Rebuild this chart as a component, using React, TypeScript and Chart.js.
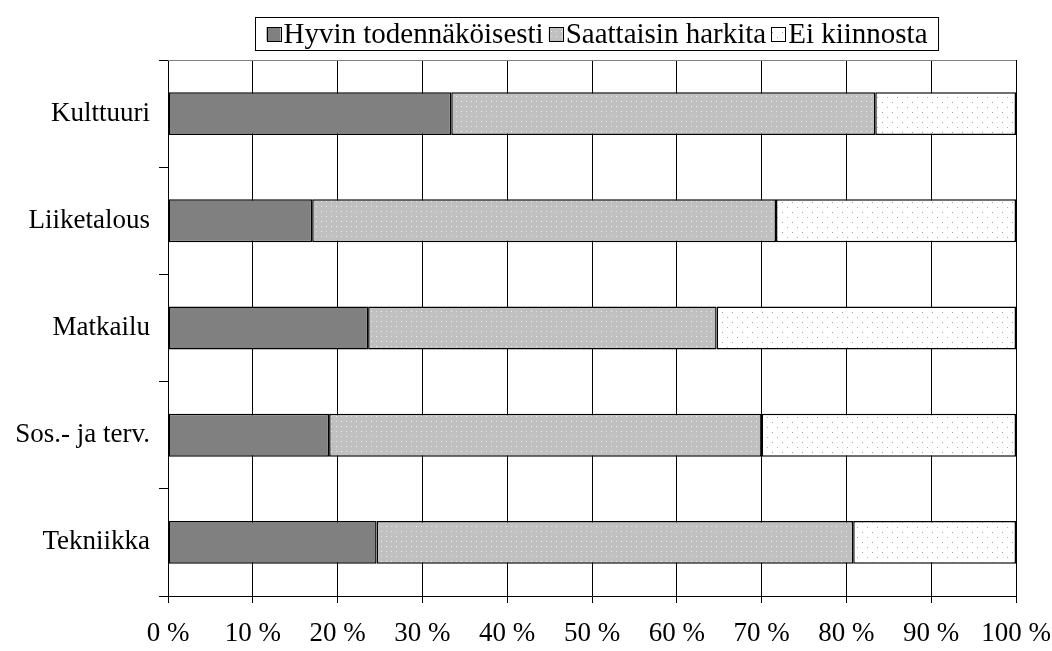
import React, { useEffect, useRef } from "react";
import { Chart, registerables } from "chart.js";

Chart.register(...registerables);

const categories = ["Kulttuuri", "Liiketalous", "Matkailu", "Sos.- ja terv.", "Tekniikka"];
const seriesNames = ["Hyvin todennäköisesti", "Saattaisin harkita", "Ei kiinnosta"];
const hyvin = [33.4, 17.0, 23.6, 19.0, 24.6];
const saattaisin = [50.0, 54.7, 41.1, 51.0, 56.2];
const eiKiinnosta = [16.6, 28.3, 35.3, 30.0, 19.2];
const xTickValues = [0, 10, 20, 30, 40, 50, 60, 70, 80, 90, 100];

const FONT = '"Liberation Serif", "Times New Roman", serif';

function makePattern(bg: string, size: number, dots: [number, number, string][]) {
  const c = document.createElement("canvas");
  c.width = size;
  c.height = size;
  const g = c.getContext("2d")!;
  g.fillStyle = bg;
  g.fillRect(0, 0, size, size);
  for (const [x, y, col] of dots) {
    g.fillStyle = col;
    g.fillRect(x, y, 1, 1);
  }
  const ctx = document.createElement("canvas").getContext("2d")!;
  return ctx.createPattern(c, "repeat")!;
}

export default function App() {
  const ref = useRef<HTMLCanvasElement>(null);
  useEffect(() => {
    document.body.style.margin = "0";
    const solid = "#808080";
    const mid = makePattern("#c0c0c0", 10, [
      [1, 1, "#f4f4f4"],
      [6, 1, "#e0e0e0"],
      [1, 6, "#e0e0e0"],
      [6, 6, "#f4f4f4"],
    ]);
    const light = makePattern("#ffffff", 10, [
      [2, 2, "#a0a0a0"],
      [7, 7, "#b0b0b0"],
    ]);
    const fills = [solid, mid, light];

    const legendPlugin = {
      id: "customLegend",
      afterDraw(chart: any) {
        const ctx = chart.ctx as CanvasRenderingContext2D;
        const ca = chart.chartArea;
        ctx.save();
        // top border of plot area
        ctx.strokeStyle = "#808080";
        ctx.lineWidth = 1;
        ctx.beginPath();
        ctx.moveTo(ca.left, ca.top + 0.5);
        ctx.lineTo(ca.right, ca.top + 0.5);
        ctx.stroke();

        ctx.font = `29px ${FONT}`;
        const sw = 14;
        const gapT = 3;
        const gapItem = 5;
        const padX = 11;
        const widths = seriesNames.map((n) => ctx.measureText(n).width);
        let total = padX * 2;
        widths.forEach((w, i) => {
          total += sw + gapT + w + (i < widths.length - 1 ? gapItem : 0);
        });
        const cx = 596.5;
        const left = Math.round(cx - total / 2) + 0.5;
        const top = 17.5;
        const h = 33;
        ctx.fillStyle = "#fff";
        ctx.fillRect(left, top, total, h);
        ctx.strokeStyle = "#000";
        ctx.lineWidth = 1;
        ctx.strokeRect(left, top, total, h);
        let x = left + padX;
        const cy = top + h / 2;
        seriesNames.forEach((n, i) => {
          ctx.fillStyle = fills[i] as any;
          ctx.fillRect(x, cy - sw / 2, sw, sw);
          ctx.strokeStyle = "#000";
          ctx.strokeRect(Math.round(x) + 0.5, Math.round(cy - sw / 2) + 0.5, sw, sw);
          ctx.fillStyle = "#000";
          ctx.textBaseline = "middle";
          ctx.textAlign = "left";
          ctx.fillText(n, x + sw + gapT, cy + 1);
          x += sw + gapT + widths[i] + gapItem;
        });
        ctx.restore();
      },
    };

    const chart = new Chart(ref.current!, {
      type: "bar",
      data: {
        labels: categories,
        datasets: [hyvin, saattaisin, eiKiinnosta].map((d, i) => ({
          label: seriesNames[i],
          data: d,
          backgroundColor: fills[i] as any,
          borderColor: "#000",
          borderWidth: 1.5,
          borderSkipped: false,
          barPercentage: 0.4,
          categoryPercentage: 1,
        })),
      },
      options: {
        indexAxis: "y",
        animation: false,
        responsive: false,
        maintainAspectRatio: false,
        layout: { padding: { left: 0, right: 36, top: 60, bottom: 0 } },
        plugins: { legend: { display: false }, tooltip: { enabled: false } },
        scales: {
          x: {
            stacked: true,
            min: 0,
            max: 100,
            afterBuildTicks: (scale: any) => {
              scale.ticks = xTickValues.map((v) => ({ value: v }));
            },
            afterFit: (scale: any) => {
              scale.height = 55;
              scale.paddingLeft = 0;
              scale.paddingRight = 0;
            },
            ticks: {
              color: "#000",
              font: { family: FONT, size: 27 },
              padding: 15,
              maxRotation: 0,
              autoSkip: false,
              callback: (v: any) => `${v} %`,
            },
            grid: { color: "#000", lineWidth: 1, tickLength: 7, drawTicks: true },
            border: { display: true, color: "#000", width: 1 },
          },
          y: {
            stacked: true,
            afterFit: (scale: any) => {
              scale.width = 168;
            },
            ticks: {
              color: "#000",
              font: { family: FONT, size: 27 },
              padding: 9,
            },
            grid: { drawOnChartArea: false, drawTicks: true, tickLength: 9, color: "#000", offset: true },
            border: { display: true, color: "#000", width: 1 },
          },
        },
      },
      plugins: [legendPlugin],
    });
    return () => chart.destroy();
  }, []);
  return (
    <div style={{ position: "absolute", left: 0, top: 0, width: 1052, height: 651, background: "#fff" }}>
      <canvas ref={ref} width={1052} height={651} style={{ display: "block" }} />
    </div>
  );
}
